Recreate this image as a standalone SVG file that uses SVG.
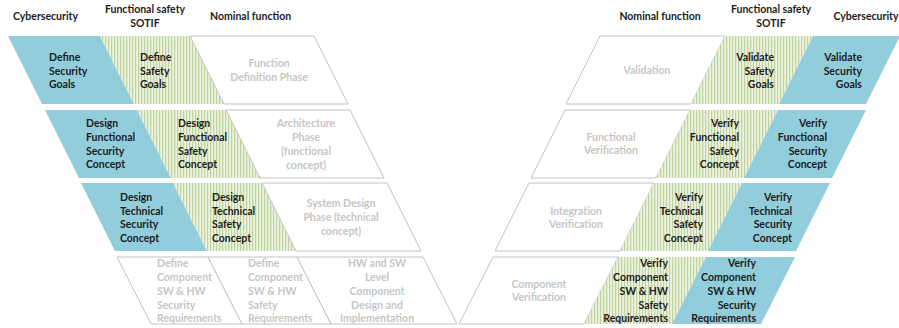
<svg xmlns="http://www.w3.org/2000/svg" width="899" height="328" viewBox="0 0 899 328">
<defs>
<pattern id="stripes" patternUnits="userSpaceOnUse" width="3" height="10">
<rect width="3" height="10" fill="#ecf2e1"/>
<rect width="1.2" height="10" fill="#bfd39c"/>
</pattern>
</defs>
<style>
.sec{fill:#92cddb;stroke:none}
.saf{fill:url(#stripes);stroke:none}
.nom{fill:#ffffff;stroke:#c3c3c3;stroke-width:1}
text{font-family:Lato,"Liberation Sans",sans-serif;font-weight:bold;font-size:10.5px}
.dk{fill:#1c1c1c}
.lt{fill:#c6c6c6}
.hd{fill:#1c1c1c}
.l{text-anchor:start}
.c{text-anchor:middle}
.r{text-anchor:end}
</style>
<rect width="899" height="328" fill="#ffffff"/>

<g id="headers-left">
<text class="hd l" x="13" y="20">Cybersecurity</text>
<text class="hd c" x="145" y="13">Functional safety</text>
<text class="hd c" x="145" y="27">SOTIF</text>
<text class="hd l" x="210" y="20">Nominal function</text>
</g>
<g id="headers-right">
<text class="hd c" x="660" y="20">Nominal function</text>
<text class="hd c" x="771" y="13">Functional safety</text>
<text class="hd c" x="771" y="27">SOTIF</text>
<text class="hd c" x="866" y="20">Cybersecurity</text>
</g>

<!-- LEFT ROW 1 -->
<g id="define-security-goals">
<polygon class="sec" points="8,36 100,36 134,104 42,104"/>
<text class="dk l" x="49" y="61">Define</text>
<text class="dk l" x="49" y="75">Security</text>
<text class="dk l" x="49" y="88">Goals</text>
</g>
<g id="define-safety-goals">
<polygon class="saf" points="100,36 190,36 224,104 134,104"/>
<text class="dk l" x="140" y="61">Define</text>
<text class="dk l" x="140" y="75">Safety</text>
<text class="dk l" x="140" y="88">Goals</text>
</g>
<g id="function-definition-phase">
<polygon class="nom" points="190,36 314,36 348,104 224,104"/>
<text class="lt c" x="269" y="67">Function</text>
<text class="lt c" x="269" y="81">Definition Phase</text>
</g>

<!-- LEFT ROW 2 -->
<g id="design-functional-security-concept">
<polygon class="sec" points="45,110 137,110 171,178 79,178"/>
<text class="dk l" x="86" y="127">Design</text>
<text class="dk l" x="86" y="141">Functional</text>
<text class="dk l" x="86" y="155">Security</text>
<text class="dk l" x="86" y="168">Concept</text>
</g>
<g id="design-functional-safety-concept">
<polygon class="saf" points="137,110 226,110 260,178 171,178"/>
<text class="dk l" x="178" y="127">Design</text>
<text class="dk l" x="178" y="141">Functional</text>
<text class="dk l" x="178" y="155">Safety</text>
<text class="dk l" x="178" y="168">Concept</text>
</g>
<g id="architecture-phase">
<polygon class="nom" points="226,110 350,110 384,178 260,178"/>
<text class="lt c" x="306" y="127">Architecture</text>
<text class="lt c" x="306" y="141">Phase</text>
<text class="lt c" x="306" y="155">(functional</text>
<text class="lt c" x="306" y="169">concept)</text>
</g>

<!-- LEFT ROW 3 -->
<g id="design-technical-security-concept">
<polygon class="sec" points="81,183 173,183 207,251 115,251"/>
<text class="dk l" x="120" y="201">Design</text>
<text class="dk l" x="120" y="215">Technical</text>
<text class="dk l" x="120" y="228">Security</text>
<text class="dk l" x="120" y="242">Concept</text>
</g>
<g id="design-technical-safety-concept">
<polygon class="saf" points="173,183 262,183 296,251 207,251"/>
<text class="dk l" x="212" y="201">Design</text>
<text class="dk l" x="212" y="215">Technical</text>
<text class="dk l" x="212" y="228">Safety</text>
<text class="dk l" x="212" y="242">Concept</text>
</g>
<g id="system-design-phase">
<polygon class="nom" points="262,183 387,183 421,251 296,251"/>
<text class="lt c" x="341" y="207">System Design</text>
<text class="lt c" x="341" y="221">Phase (technical</text>
<text class="lt c" x="341" y="235">concept)</text>
</g>

<!-- LEFT ROW 4 -->
<g id="define-component-security-requirements">
<polygon class="nom" points="117,257 208,257 242,324 151,324"/>
<text class="lt l" x="157" y="267">Define</text>
<text class="lt l" x="157" y="281">Component</text>
<text class="lt l" x="157" y="295">SW &amp; HW</text>
<text class="lt l" x="157" y="309">Security</text>
<text class="lt l" x="157" y="322">Requirements</text>
</g>
<g id="define-component-safety-requirements">
<polygon class="nom" points="208,257 297,257 331,324 242,324"/>
<text class="lt l" x="248" y="267">Define</text>
<text class="lt l" x="248" y="281">Component</text>
<text class="lt l" x="248" y="295">SW &amp; HW</text>
<text class="lt l" x="248" y="309">Safety</text>
<text class="lt l" x="248" y="322">Requirements</text>
</g>
<g id="hw-sw-component-design">
<polygon class="nom" points="297,257 423,257 457,324 331,324"/>
<text class="lt c" x="377" y="267">HW and SW</text>
<text class="lt c" x="377" y="281">Level</text>
<text class="lt c" x="377" y="295">Component</text>
<text class="lt c" x="377" y="309">Design and</text>
<text class="lt c" x="377" y="322">Implementation</text>
</g>

<!-- RIGHT ROW 1 -->
<g id="validation">
<polygon class="nom" points="600,36 725,36 691,104 566,104"/>
<text class="lt c" x="647" y="74">Validation</text>
</g>
<g id="validate-safety-goals">
<polygon class="saf" points="725,36 813,36 779,104 691,104"/>
<text class="dk r" x="774" y="61">Validate</text>
<text class="dk r" x="774" y="75">Safety</text>
<text class="dk r" x="774" y="88">Goals</text>
</g>
<g id="validate-security-goals">
<polygon class="sec" points="813,36 900,36 866,104 779,104"/>
<text class="dk r" x="862" y="61">Validate</text>
<text class="dk r" x="862" y="75">Security</text>
<text class="dk r" x="862" y="88">Goals</text>
</g>

<!-- RIGHT ROW 2 -->
<g id="functional-verification">
<polygon class="nom" points="565,110 690,110 656,178 531,178"/>
<text class="lt c" x="611" y="141">Functional</text>
<text class="lt c" x="611" y="154">Verification</text>
</g>
<g id="verify-functional-safety-concept">
<polygon class="saf" points="690,110 778,110 744,178 656,178"/>
<text class="dk r" x="739" y="127">Verify</text>
<text class="dk r" x="739" y="141">Functional</text>
<text class="dk r" x="739" y="155">Safety</text>
<text class="dk r" x="739" y="168">Concept</text>
</g>
<g id="verify-functional-security-concept">
<polygon class="sec" points="778,110 866,110 832,178 744,178"/>
<text class="dk r" x="827" y="127">Verify</text>
<text class="dk r" x="827" y="141">Functional</text>
<text class="dk r" x="827" y="155">Security</text>
<text class="dk r" x="827" y="168">Concept</text>
</g>

<!-- RIGHT ROW 3 -->
<g id="integration-verification">
<polygon class="nom" points="529,183 654,183 620,251 495,251"/>
<text class="lt c" x="576" y="215">Integration</text>
<text class="lt c" x="576" y="228">Verification</text>
</g>
<g id="verify-technical-safety-concept">
<polygon class="saf" points="654,183 742,183 708,251 620,251"/>
<text class="dk r" x="703" y="201">Verify</text>
<text class="dk r" x="703" y="215">Technical</text>
<text class="dk r" x="703" y="228">Safety</text>
<text class="dk r" x="703" y="242">Concept</text>
</g>
<g id="verify-technical-security-concept">
<polygon class="sec" points="742,183 830,183 796,251 708,251"/>
<text class="dk r" x="792" y="201">Verify</text>
<text class="dk r" x="792" y="215">Technical</text>
<text class="dk r" x="792" y="228">Security</text>
<text class="dk r" x="792" y="242">Concept</text>
</g>

<!-- RIGHT ROW 4 -->
<g id="component-verification">
<polygon class="nom" points="493,257 618,257 584,324 459,324"/>
<text class="lt c" x="539" y="288">Component</text>
<text class="lt c" x="539" y="301">Verification</text>
</g>
<g id="verify-component-safety-requirements">
<polygon class="saf" points="618,257 706,257 672,324 584,324"/>
<text class="dk r" x="668" y="267">Verify</text>
<text class="dk r" x="668" y="281">Component</text>
<text class="dk r" x="668" y="295">SW &amp; HW</text>
<text class="dk r" x="668" y="309">Safety</text>
<text class="dk r" x="668" y="322">Requirements</text>
</g>
<g id="verify-component-security-requirements">
<polygon class="sec" points="706,257 795,257 761,324 672,324"/>
<text class="dk r" x="756" y="267">Verify</text>
<text class="dk r" x="756" y="281">Component</text>
<text class="dk r" x="756" y="295">SW &amp; HW</text>
<text class="dk r" x="756" y="309">Security</text>
<text class="dk r" x="756" y="322">Requirements</text>
</g>
</svg>
